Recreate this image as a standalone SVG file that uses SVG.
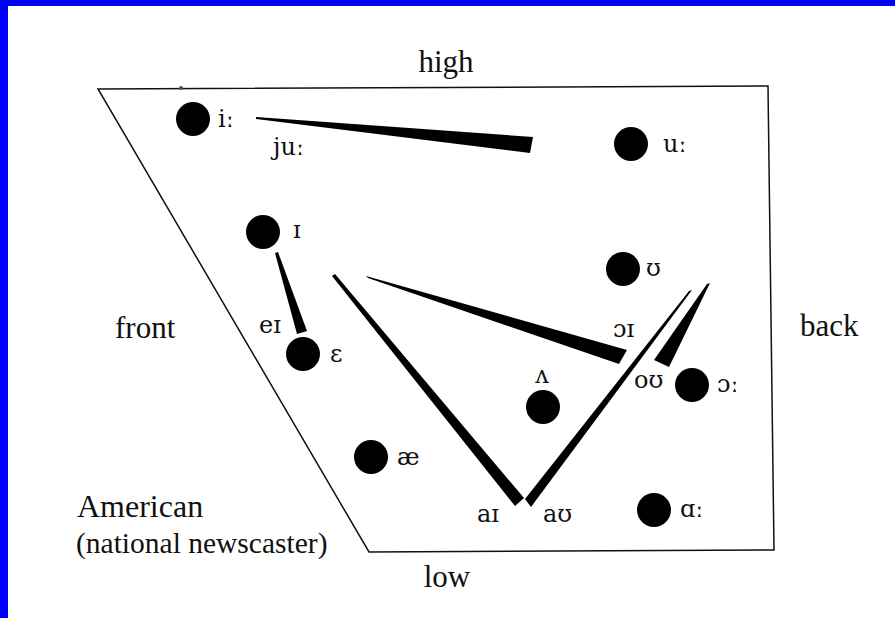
<svg xmlns="http://www.w3.org/2000/svg" width="895" height="618" viewBox="0 0 895 618">
<style>
.big{font-family:"Liberation Serif","Times New Roman",serif;font-size:31px;fill:#111}
.ipa{font-family:"DejaVu Serif","Liberation Serif",serif;font-size:24px;fill:#111}
.dot{fill:#000}
.wedge{fill:#000}
</style>
<rect x="0" y="0" width="895" height="618" fill="#ffffff"/>
<rect x="0" y="0" width="895" height="6" fill="#0000ff"/>
<rect x="0" y="0" width="8" height="618" fill="#0000ff"/>
<g id="chart">
<polygon points="98,89 768,86 774,550 369,552" fill="none" stroke="#111" stroke-width="1.5"/>
<circle cx="181" cy="88" r="2" fill="#6b4a2a"/>
</g>
<g id="axis-labels">
<text class="big" x="446" y="72" text-anchor="middle">high</text>
<text class="big" x="447" y="587" text-anchor="middle">low</text>
<text class="big" x="115" y="338">front</text>
<text class="big" x="800" y="336">back</text>
<text class="big" x="77" y="517" style="font-size:32px">American</text>
<text class="big" x="76" y="553" style="font-size:29.5px">(national newscaster)</text>
</g>
<g id="connectors">
<polygon class="wedge" points="256,117 533,137 530,153 256,119"/>
<polygon class="wedge" points="275,253 278,252 307,331 297,334"/>
<polygon class="wedge" points="332,276 335,274 524,498 515,506"/>
<polygon class="wedge" points="689,291 692,290 531,507 525,499"/>
<polygon class="wedge" points="366,276 368,278 619,364 627,350"/>
<polygon class="wedge" points="707,284 710,283 669,367 654,360"/>
</g>
<g id="node-i"><circle class="dot" cx="193" cy="119" r="17"/><text class="ipa" x="218" y="127">iː</text></g>
<g id="node-ju"><text class="ipa" x="273" y="155">juː</text></g>
<g id="node-u"><circle class="dot" cx="631" cy="144" r="17"/><text class="ipa" x="663" y="152">uː</text></g>
<g id="node-I"><circle class="dot" cx="263" cy="232" r="17"/><text class="ipa" x="293" y="238">ɪ</text></g>
<g id="node-eI"><text class="ipa" x="259" y="333">eɪ</text></g>
<g id="node-E"><circle class="dot" cx="303" cy="354" r="17"/><text class="ipa" x="330" y="362">ɛ</text></g>
<g id="node-U"><circle class="dot" cx="623" cy="269" r="17"/><text class="ipa" x="646" y="276">ʊ</text></g>
<g id="node-oI"><text class="ipa" x="613" y="337">ɔɪ</text></g>
<g id="node-oU"><text class="ipa" x="634" y="388">oʊ</text></g>
<g id="node-o"><circle class="dot" cx="692" cy="385" r="17"/><text class="ipa" x="717" y="392">ɔː</text></g>
<g id="node-V"><circle class="dot" cx="543" cy="407" r="17"/><text class="ipa" x="542" y="383" text-anchor="middle">ʌ</text></g>
<g id="node-ae"><circle class="dot" cx="371" cy="457" r="17"/><text class="ipa" x="397" y="465">æ</text></g>
<g id="node-aI"><text class="ipa" x="477" y="522">aɪ</text></g>
<g id="node-aU"><text class="ipa" x="543" y="522">aʊ</text></g>
<g id="node-a"><circle class="dot" cx="654" cy="510" r="17"/><text class="ipa" x="680" y="517">ɑː</text></g>
</svg>
